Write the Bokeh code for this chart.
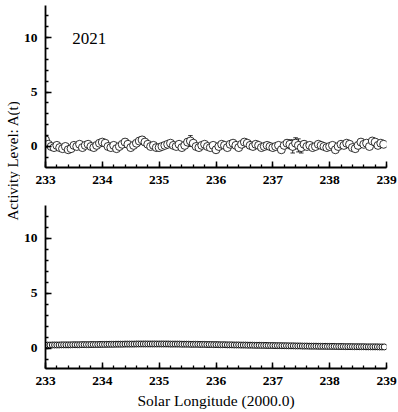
import numpy as np
from bokeh.plotting import figure
from bokeh.layouts import row, column
from bokeh.models import SingleIntervalTicker, Range1d, Label, ColumnDataSource
from bokeh.embed import file_html
from bokeh.resources import INLINE

# ---------------- data ----------------
year_label = "2021"

# top panel (2021): activity level, 0.05 deg sampling starting at 233.00
top_start = 233.0
top_step = 0.05
top_vals = [
    0.6, 0.2, 0.0, -0.1, 0.1, -0.1, -0.2, 0.0, -0.3, -0.2, 0.1, 0.0, 0.2, -0.1, 0.1, 0.2, 0.0, -0.1, 0.1, 0.3,
    0.4, 0.3, 0.0, -0.1, 0.1, -0.2, 0.0, 0.2, 0.4, 0.2, -0.1, 0.1, 0.3, 0.5, 0.6, 0.4, 0.2, 0.0, 0.1, -0.1,
    -0.1, 0.0, 0.1, 0.2, 0.3, 0.1, 0.0, 0.2, -0.1, 0.1, 0.4, 0.5, 0.3, 0.0, -0.1, 0.1, 0.2, 0.0, -0.1, 0.1,
    -0.3, 0.0, 0.2, 0.1, -0.1, 0.2, 0.3, 0.1, -0.1, 0.2, 0.4, 0.3, 0.1, 0.0, 0.2, 0.1, -0.1, 0.0, 0.1, 0.0,
    -0.1, 0.0, 0.1, -0.3, 0.1, 0.3, 0.2, 0.0, 0.3, 0.1, -0.1, 0.2, 0.0, 0.1, -0.1, 0.0, 0.2, 0.1, 0.0, -0.1,
    0.0, 0.1, -0.3, 0.0, 0.2, 0.1, 0.3, 0.2, -0.1, -0.2, 0.1, 0.4, 0.2, 0.3, 0.0, 0.5, 0.4, 0.1, 0.3, 0.2,
]
top_err = [
    0.35, 0.2, 0.2, 0.2, 0.2, 0.2, 0.2, 0.2, 0.2, 0.2, 0.2, 0.2, 0.2, 0.2, 0.2, 0.2, 0.2, 0.2, 0.2, 0.2,
    0.2, 0.2, 0.2, 0.2, 0.2, 0.2, 0.2, 0.2, 0.3, 0.2, 0.2, 0.2, 0.2, 0.3, 0.3, 0.2, 0.2, 0.2, 0.2, 0.2,
    0.2, 0.2, 0.2, 0.2, 0.2, 0.2, 0.2, 0.2, 0.2, 0.2, 0.3, 0.5, 0.2, 0.2, 0.2, 0.2, 0.2, 0.2, 0.2, 0.2,
    0.2, 0.2, 0.2, 0.2, 0.2, 0.2, 0.2, 0.2, 0.2, 0.2, 0.3, 0.2, 0.2, 0.2, 0.2, 0.2, 0.2, 0.2, 0.2, 0.2,
    0.2, 0.2, 0.2, 0.2, 0.2, 0.3, 0.4, 0.6, 0.5, 0.6, 0.5, 0.3, 0.2, 0.2, 0.2, 0.2, 0.2, 0.2, 0.2, 0.2,
    0.2, 0.2, 0.2, 0.2, 0.2, 0.2, 0.2, 0.2, 0.2, 0.2, 0.2, 0.3, 0.2, 0.2, 0.2, 0.3, 0.3, 0.2, 0.2, 0.2,
]

# bottom panel: smooth activity level, 0.04 deg sampling starting at 233.00
bot_start = 233.0
bot_step = 0.04
bot_vals = [
    0.28, 0.28, 0.28, 0.29, 0.29, 0.29, 0.29, 0.30, 0.30, 0.30, 0.30, 0.30, 0.31, 0.31, 0.31, 0.31, 0.32, 0.32, 0.32, 0.32, 0.33, 0.33, 0.33, 0.33, 0.34,
    0.34, 0.34, 0.35, 0.35, 0.35, 0.35, 0.36, 0.36, 0.36, 0.36, 0.37, 0.37, 0.37, 0.37, 0.37, 0.38, 0.38, 0.38, 0.38, 0.38, 0.38, 0.38, 0.38, 0.38, 0.38,
    0.38, 0.38, 0.38, 0.38, 0.38, 0.37, 0.37, 0.37, 0.37, 0.37, 0.36, 0.36, 0.36, 0.36, 0.35, 0.35, 0.35, 0.35, 0.34, 0.34, 0.34, 0.33, 0.33, 0.33, 0.32,
    0.32, 0.32, 0.31, 0.31, 0.31, 0.30, 0.30, 0.30, 0.29, 0.29, 0.29, 0.28, 0.28, 0.28, 0.27, 0.27, 0.27, 0.26, 0.26, 0.26, 0.25, 0.25, 0.25, 0.24, 0.24,
    0.24, 0.23, 0.23, 0.23, 0.22, 0.22, 0.22, 0.21, 0.21, 0.21, 0.20, 0.20, 0.20, 0.19, 0.19, 0.19, 0.18, 0.18, 0.18, 0.18, 0.17, 0.17, 0.17, 0.17, 0.16,
    0.16, 0.16, 0.16, 0.15, 0.15, 0.15, 0.15, 0.14, 0.14, 0.14, 0.14, 0.13, 0.13, 0.13, 0.13, 0.13, 0.12, 0.12, 0.12, 0.12, 0.12, 0.12, 0.11, 0.11, 0.11,
]

x_label = "Solar Longitude (2000.0)"
y_label = "Activity Level: A(t)"

FONT = "Liberation Serif"


def style(p, show_xlabel=False):
    p.outline_line_color = None
    p.xgrid.visible = False
    p.ygrid.visible = False
    for ax in (p.xaxis[0], p.yaxis[0]):
        ax.axis_line_width = 1.8
        ax.axis_line_color = "black"
        ax.major_tick_in = 6
        ax.major_tick_out = 0
        ax.minor_tick_in = 3
        ax.minor_tick_out = 0
        ax.major_tick_line_width = 1.5
        ax.minor_tick_line_width = 1.3
        ax.major_tick_line_color = "black"
        ax.minor_tick_line_color = "black"
        ax.major_label_text_font = FONT
        ax.major_label_text_font_size = "13.5px"
        ax.major_label_text_font_style = "bold"
        ax.major_label_text_color = "black"
        ax.major_label_standoff = 8
    p.xaxis[0].ticker = SingleIntervalTicker(interval=1, num_minor_ticks=5)
    p.yaxis[0].ticker = SingleIntervalTicker(interval=5, num_minor_ticks=5)
    if show_xlabel:
        p.xaxis[0].axis_label = x_label
        p.xaxis[0].axis_label_text_font = FONT
        p.xaxis[0].axis_label_text_font_size = "15.5px"
        p.xaxis[0].axis_label_text_font_style = "normal"
        p.xaxis[0].axis_label_text_color = "black"
        p.xaxis[0].axis_label_standoff = 4


W = 378
# top panel
p1 = figure(width=W, height=190, output_backend="svg", toolbar_location=None,
            x_range=Range1d(233, 239), y_range=Range1d(-1.93, 12.94),
            min_border_left=23, min_border_right=12, min_border_top=5, min_border_bottom=23)
style(p1)
tx = [top_start + i * top_step for i in range(len(top_vals))]
src1 = ColumnDataSource(dict(
    x=tx, y=top_vals,
    lo=[v - e for v, e in zip(top_vals, top_err)],
    hi=[v + e for v, e in zip(top_vals, top_err)],
    x0=[x - 0.04 for x in tx], x1=[x + 0.04 for x in tx],
))
p1.segment(x0="x", y0="lo", x1="x", y1="hi", source=src1, line_color="black", line_width=0.8)
p1.segment(x0="x0", y0="hi", x1="x1", y1="hi", source=src1, line_color="black", line_width=0.8)
p1.segment(x0="x0", y0="lo", x1="x1", y1="lo", source=src1, line_color="black", line_width=0.8)
p1.scatter(x="x", y="y", source=src1, size=8, marker="circle",
           fill_color="white", line_color="black", line_width=0.8)
p1.add_layout(Label(x=233.47, y=9.9, text=year_label, text_font=FONT, text_font_size="17px",
                    text_baseline="middle", text_align="left", text_color="black"))

# bottom panel
p2 = figure(width=W, height=222, output_backend="svg", toolbar_location=None,
            x_range=Range1d(233, 239), y_range=Range1d(-1.85, 12.97),
            min_border_left=23, min_border_right=12, min_border_top=15, min_border_bottom=44)
style(p2, show_xlabel=True)
bx = [bot_start + i * bot_step for i in range(len(bot_vals))]
p2.scatter(x=bx, y=bot_vals, size=6, marker="circle",
           fill_color="white", line_color="black", line_width=0.9)

# shared y-axis label
pl = figure(width=20, height=412, output_backend="svg", toolbar_location=None,
            x_range=Range1d(0, 1), y_range=Range1d(0, 412),
            min_border=0, min_border_left=0, min_border_right=0, min_border_top=0, min_border_bottom=0)
pl.axis.visible = False
pl.grid.visible = False
pl.outline_line_color = None
pl.add_layout(Label(x=0.6, y=252, text=y_label, angle=np.pi / 2, text_font=FONT,
                    text_font_size="15px", text_align="center", text_baseline="middle",
                    text_color="black"))

layout = row(pl, column(p1, p2))
open("out.html", "w").write(file_html(layout, INLINE))
